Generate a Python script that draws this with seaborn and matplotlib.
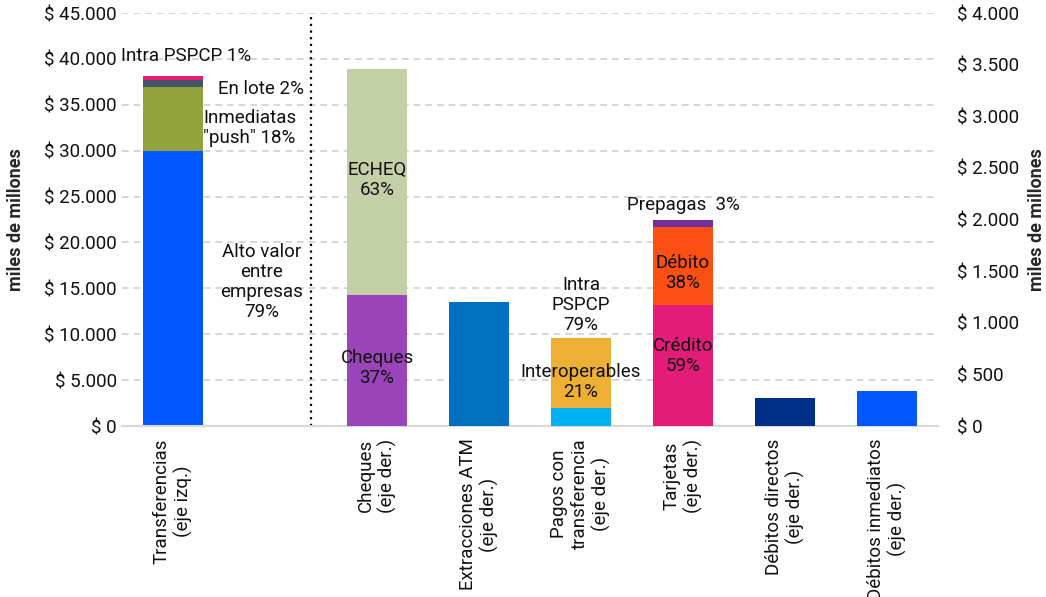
import matplotlib
matplotlib.use('Agg')
import matplotlib.pyplot as plt
import seaborn as sns
from matplotlib.ticker import FuncFormatter

# categorias (el hueco separa el eje izquierdo del derecho)
orden = ['Transferencias', 'hueco', 'Cheques', 'Extracciones ATM',
         'Pagos con transferencia', 'Tarjetas', 'Debitos directos', 'Debitos inmediatos']
etiquetas = ['Transferencias\n(eje izq.)', '',
             'Cheques\n(eje der.)', 'Extracciones ATM\n(eje der.)',
             'Pagos con\ntransferencia\n(eje der.)', 'Tarjetas\n(eje der.)',
             'Débitos directos\n(eje der.)', 'Débitos inmediatos\n(eje der.)']

# transferencias, eje izquierdo (miles de millones)
transf_tramos = ['Alto valor', 'Inmediatas push', 'En lote', 'Intra PSPCP']
transf_valores = [29960, 6980, 760, 400]
transf_colores = ['#0057FF', '#92A33C', '#44546A', '#E31C79']

# eje derecho
cheques_valores = [1270, 2190]          # Cheques, ECHEQ
cheques_colores = ['#9944B8', '#C3CFA6']
atm_valor = [1200]
pagos_valores = [178, 674]              # Interoperables, Intra PSPCP
pagos_colores = ['#00B0F0', '#EDB035']
tarjetas_valores = [1175, 755, 65]      # Credito, Debito, Prepagas
tarjetas_colores = ['#E31C79', '#FC4F14', '#7030A0']
deb_directos = [272]
deb_inmediatos = [338]

sns.set_style('white')
plt.rcParams['font.family'] = ['Roboto', 'DejaVu Sans']

fig = plt.figure(figsize=(10.46, 5.97), dpi=100)
ax = fig.add_axes([0.1166, 0.2864, 0.7801, 0.6918])
ax2 = ax.twinx()
ancho = 0.59


def apilar(eje, cat, valores, colores):
    base = 0
    for v, c in zip(valores, colores):
        sns.barplot(x=[cat], y=[v], order=orden, bottom=base, color=c,
                    width=ancho, saturation=1, linewidth=0, ax=eje, zorder=3)
        base += v


apilar(ax, 'Transferencias', transf_valores, transf_colores)
apilar(ax2, 'Cheques', cheques_valores, cheques_colores)
apilar(ax2, 'Extracciones ATM', atm_valor, ['#0070C0'])
apilar(ax2, 'Pagos con transferencia', pagos_valores, pagos_colores)
apilar(ax2, 'Tarjetas', tarjetas_valores, tarjetas_colores)
apilar(ax2, 'Debitos directos', deb_directos, ['#002F87'])
apilar(ax2, 'Debitos inmediatos', deb_inmediatos, ['#0057FF'])

fs = 13.5
pesos = lambda v, p: '$ ' + f'{int(v):,}'.replace(',', '.')
ax.set_ylim(0, 45000)
ax.set_yticks(range(0, 45001, 5000))
ax.yaxis.set_major_formatter(FuncFormatter(pesos))
ax2.set_ylim(0, 4000)
ax2.set_yticks(range(0, 4001, 500))
ax2.yaxis.set_major_formatter(FuncFormatter(pesos))
ax.set_xlim(-0.5, 7.5)

ax.grid(axis='y', color='#D0D0D0', linestyle=(0, (4, 3)), linewidth=1.2, zorder=0)
ax2.grid(False)
for a in (ax, ax2):
    for s in ['top', 'left', 'right']:
        a.spines[s].set_visible(False)
    a.spines['bottom'].set_color('#D9D9D9')
    a.spines['bottom'].set_linewidth(1.5)
    a.tick_params(axis='y', length=0, labelsize=fs, colors='#111111')
ax2.tick_params(axis='y', pad=14)

ax.set_xticks(range(len(orden)))
ax.set_xticklabels(etiquetas, rotation=90, fontsize=fs, color='#111111',
                   va='top', ha='center', multialignment='center')
ax.tick_params(axis='x', length=0, pad=9)
ax2.xaxis.set_visible(False)
ax.set_xlabel('')

ax.set_ylabel('miles de millones', fontsize=13, fontweight='bold', labelpad=14)
ax2.set_ylabel('miles de millones', fontsize=13, fontweight='bold', labelpad=6)

ax.axvline(1.35, color='black', linestyle=(0, (1, 2)), linewidth=1.6, zorder=4)

kw = dict(ha='center', va='center', fontsize=fs, linespacing=1.15, color='#111111')
ax.text(0.87, 15690, 'Alto valor\nentre\nempresas\n79%', **kw)
ax.text(0.75, 32470, 'Inmediatas\n"push" 18%', **kw)
ax.text(0.86, 36720, 'En lote 2%', **kw)
ax.text(0.13, 40310, 'Intra PSPCP 1%', **kw)

ax2.text(2, 2383, 'ECHEQ\n63%', **kw)
ax2.text(2, 562, 'Cheques\n37%', **kw)
ax2.text(4, 1172, 'Intra\nPSPCP\n79%', **kw)
ax2.text(4, 426, 'Interoperables\n21%', **kw)
ax2.text(5, 2140, 'Prepagas  3%', **kw)
ax2.text(5, 1482, 'Débito\n38%', **kw)
ax2.text(5, 678, 'Crédito\n59%', **kw)

fig.savefig('out.png', dpi=100)
